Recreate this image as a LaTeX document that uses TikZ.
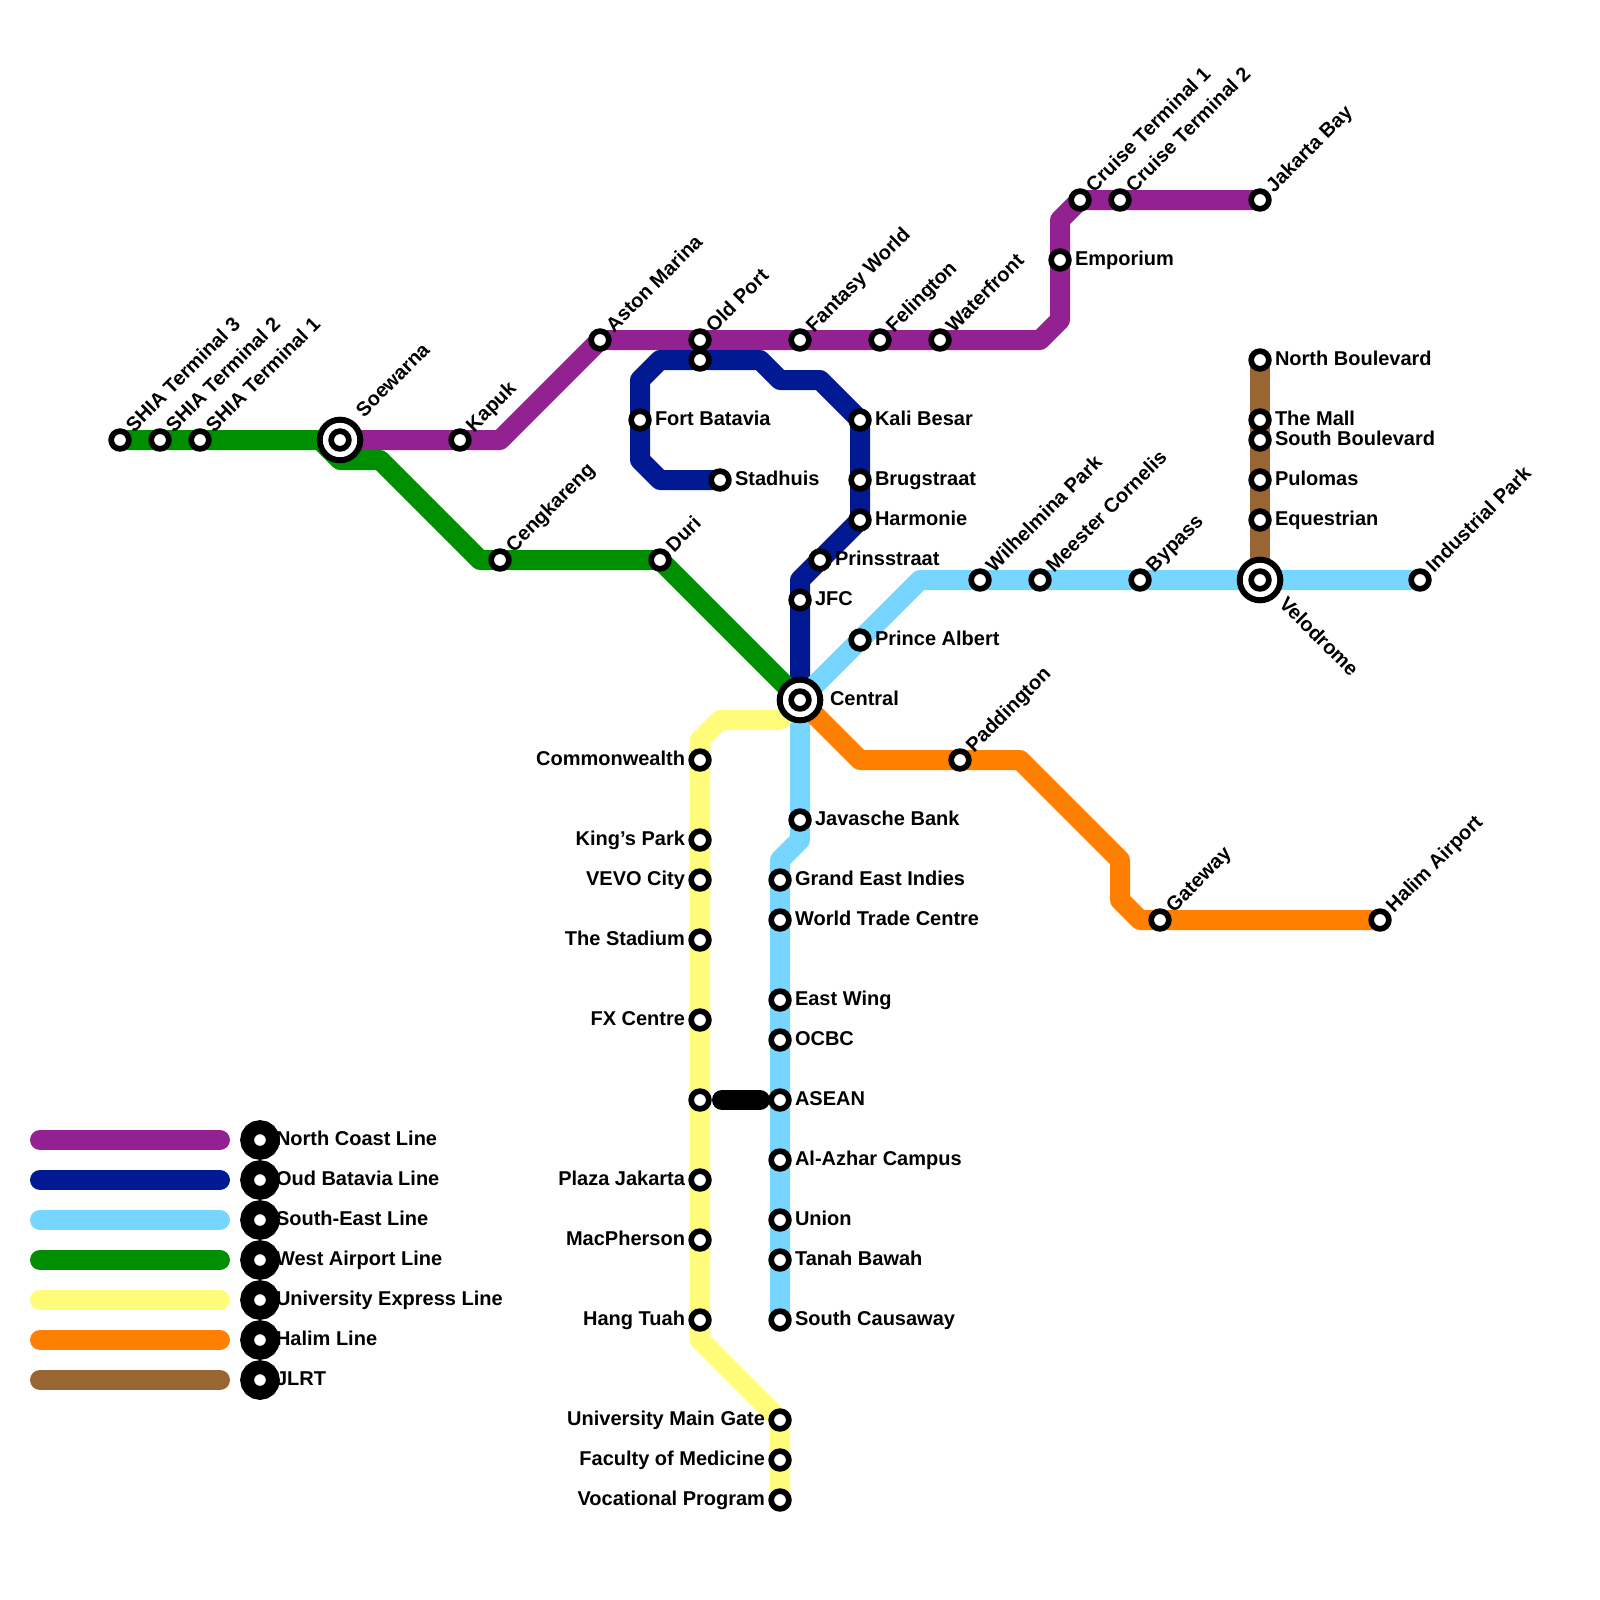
\documentclass[tikz,border=0pt]{standalone}
\usepackage{fontspec}
\setmainfont{Liberation Sans}[BoldFont={Liberation Sans Bold}]
\usetikzlibrary{backgrounds}
\definecolor{cnorth}{HTML}{942192}
\definecolor{coud}{HTML}{011993}
\definecolor{csouth}{HTML}{76D6FF}
\definecolor{cwest}{HTML}{008F00}
\definecolor{cuni}{HTML}{FFFC79}
\definecolor{chalim}{HTML}{FF8000}
\definecolor{cjlrt}{HTML}{996633}
\pgfdeclarelayer{tracks}
\pgfdeclarelayer{labels}
\pgfsetlayers{tracks,labels,main}
\tikzset{
  x=0.5pt,y=-0.5pt,
  station/.style={circle,draw=black,fill=white,line width=2.85pt,minimum size=8.85pt,inner sep=0pt,outer sep=0pt},
  hub/.style={circle,draw=black,fill=white,line width=3pt,minimum size=20.3pt,inner sep=0pt,outer sep=0pt},
  keydot/.style={circle,draw=black,fill=white,line width=6.9pt,minimum size=12.9pt,inner sep=0pt,outer sep=0pt},
  txt/.style={inner sep=0pt,outer sep=0pt,font=\bfseries\fontsize{10pt}{12pt}\selectfont},
  lblR/.style={txt,anchor=base west},
  lblL/.style={txt,anchor=base east},
  lblU/.style={txt,anchor=base west,rotate=45},
  lblD/.style={txt,anchor=base west,rotate=-45},
  track/.style={line width=10pt,line join=round,line cap=round},
  keybar/.style={line width=10pt,line cap=round},
}
\newcommand{\stR}[4]{\node[station] (#1) at (#2,#3) {};
  \begin{pgfonlayer}{labels}\node[lblR] (#1t) at ([shift={(15,5)}]#1.center) {#4};\end{pgfonlayer}}
\newcommand{\stL}[4]{\node[station] (#1) at (#2,#3) {};
  \begin{pgfonlayer}{labels}\node[lblL] (#1t) at ([shift={(-15,5)}]#1.center) {#4};\end{pgfonlayer}}
\newcommand{\stU}[4]{\node[station] (#1) at (#2,#3) {};
  \begin{pgfonlayer}{labels}\node[lblU] (#1t) at ([shift={(14,-7)}]#1.center) {#4};\end{pgfonlayer}}
\begin{document}
\begin{tikzpicture}
\useasboundingbox (0,0) rectangle (1600,1600);
% hubs
\node[hub] (soewarna) at (340,440) {};
\node[station] (soewarnai) at (soewarna.center) {};
\node[hub] (central) at (800,700) {};
\node[station] (centrali) at (central.center) {};
\node[hub] (velodrome) at (1260,580) {};
\node[station] (velodromei) at (velodrome.center) {};
\begin{pgfonlayer}{labels}
\node[lblU] (soewarnat) at (364,418) {Soewarna};
\node[lblR] (centralt) at (830,705) {Central};
\node[lblD] (velodromet) at (1278,605) {Velodrome};
\end{pgfonlayer}
% north coast
\stU{kapuk}{460}{440}{Kapuk}
\stU{aston}{600}{340}{Aston Marina}
\stU{oldport}{700}{340}{Old Port}
\stU{fantasy}{800}{340}{Fantasy World}
\stU{felington}{880}{340}{Felington}
\stU{waterfront}{940}{340}{Waterfront}
\stR{emporium}{1060}{260}{Emporium}
\stU{cruisea}{1080}{200}{Cruise Terminal 1}
\stU{cruiseb}{1120}{200}{Cruise Terminal 2}
\stU{jakarta}{1260}{200}{Jakarta Bay}
% oud batavia
\stR{stadhuis}{720}{480}{Stadhuis}
\stR{fort}{640}{420}{Fort Batavia}
\node[station] (oudtop) at (700,360) {};
\stR{kali}{860}{420}{Kali Besar}
\stR{brug}{860}{480}{Brugstraat}
\stR{harmonie}{860}{520}{Harmonie}
\stR{prins}{820}{560}{Prinsstraat}
\stR{jfc}{800}{600}{JFC}
% south-east
\stU{industrial}{1420}{580}{Industrial Park}
\stU{bypass}{1140}{580}{Bypass}
\stU{meester}{1040}{580}{Meester Cornelis}
\stU{wilhelmina}{980}{580}{Wilhelmina Park}
\stR{prince}{860}{640}{Prince Albert}
\stR{javasche}{800}{820}{Javasche Bank}
\stR{grand}{780}{880}{Grand East Indies}
\stR{wtc}{780}{920}{World Trade Centre}
\stR{east}{780}{1000}{East Wing}
\stR{ocbc}{780}{1040}{OCBC}
\stR{asean}{780}{1100}{ASEAN}
\stR{azhar}{780}{1160}{Al-Azhar Campus}
\stR{union}{780}{1220}{Union}
\stR{tanah}{780}{1260}{Tanah Bawah}
\stR{causeway}{780}{1320}{South Causaway}
% west airport
\stU{shiac}{120}{440}{SHIA Terminal 3}
\stU{shiab}{160}{440}{SHIA Terminal 2}
\stU{shiaa}{200}{440}{SHIA Terminal 1}
\stU{cengkareng}{500}{560}{Cengkareng}
\stU{duri}{660}{560}{Duri}
% university
\stL{commonwealth}{700}{760}{Commonwealth}
\stL{kings}{700}{840}{King’s Park}
\stL{vevo}{700}{880}{VEVO City}
\stL{stadium}{700}{940}{The Stadium}
\stL{fx}{700}{1020}{FX Centre}
\node[station] (uniasean) at (700,1100) {};
\stL{plaza}{700}{1180}{Plaza Jakarta}
\stL{macpherson}{700}{1240}{MacPherson}
\stL{hang}{700}{1320}{Hang Tuah}
\stL{gate}{780}{1420}{University Main Gate}
\stL{medicine}{780}{1460}{Faculty of Medicine}
\stL{vocational}{780}{1500}{Vocational Program}
% halim
\stU{paddington}{960}{760}{Paddington}
\stU{gateway}{1160}{920}{Gateway}
\stU{halim}{1380}{920}{Halim Airport}
% jlrt
\stR{northb}{1260}{360}{North Boulevard}
\stR{mall}{1260}{420}{The Mall}
\stR{southb}{1260}{440}{South Boulevard}
\stR{pulomas}{1260}{480}{Pulomas}
\stR{equestrian}{1260}{520}{Equestrian}
% bends
\coordinate (n1) at (500,440); \coordinate (n2) at (1040,340); \coordinate (n3) at (1060,320);
\coordinate (n4) at (1060,220);
\coordinate (o1) at (660,480); \coordinate (o2) at (640,460); \coordinate (o3) at (640,380);
\coordinate (o4) at (660,360); \coordinate (o5) at (760,360); \coordinate (o6) at (780,380);
\coordinate (o7) at (820,380); \coordinate (o8) at (800,580);
\coordinate (s1) at (920,580); \coordinate (s2) at (800,840); \coordinate (s3) at (780,860);
\coordinate (w1) at (320,440); \coordinate (w2) at (340,460); \coordinate (w3) at (380,460);
\coordinate (w4) at (480,560);
\coordinate (u1) at (780,720); \coordinate (u2) at (720,720); \coordinate (u3) at (700,740);
\coordinate (u4) at (700,1340);
\coordinate (h1) at (860,760); \coordinate (h2) at (1020,760); \coordinate (h3) at (1120,860);
\coordinate (h4) at (1120,900); \coordinate (h5) at (1140,920);
\coordinate (b1) at ([shift={(22,0)}]uniasean.center);
\coordinate (b2) at ([shift={(-20,0)}]asean.center);
\begin{pgfonlayer}{tracks}
\draw[track,cnorth] (soewarna.center) -- (kapuk.center) -- (n1) -- (aston.center) -- (n2) -- (n3) -- (n4) -- (cruisea.center) -- (jakarta.center);
\draw[track,coud] (stadhuis.center) -- (o1) -- (o2) -- (o3) -- (o4) -- (o5) -- (o6) -- (o7) -- (kali.center) -- (harmonie.center) -- (o8) -- (central.center);
\draw[track,csouth] (industrial.center) -- (s1) -- (central.center) -- (s2) -- (s3) -- (causeway.center);
\draw[track,cwest] (shiac.center) -- (w1) -- (w2) -- (w3) -- (w4) -- (duri.center) -- (central.center);
\draw[track,cuni] (central.center) -- (u1) -- (u2) -- (u3) -- (u4) -- (gate.center) -- (vocational.center);
\draw[track,chalim] (central.center) -- (h1) -- (h2) -- (h3) -- (h4) -- (h5) -- (halim.center);
\draw[track,cjlrt] (northb.center) -- (velodrome.center);
\draw[track,black] (b1) -- (b2);
\end{pgfonlayer}
% legend
\foreach \nm/\col/\yy/\txtv in {a/cnorth/1140/North Coast Line,b/coud/1180/Oud Batavia Line,c/csouth/1220/South-East Line,d/cwest/1260/West Airport Line,e/cuni/1300/University Express Line,f/chalim/1340/Halim Line,g/cjlrt/1380/JLRT}{
  \node[keydot] (key\nm) at (260,\yy) {};
  \coordinate (keyl\nm) at (40,\yy);
  \coordinate (keyr\nm) at (220,\yy);
  \begin{pgfonlayer}{tracks}\draw[keybar,\col] (keyl\nm) -- (keyr\nm);\end{pgfonlayer}
  \begin{pgfonlayer}{labels}\node[lblR] (keyt\nm) at (276,\yy+5) {\txtv};\end{pgfonlayer}
}
\end{tikzpicture}
\end{document}
